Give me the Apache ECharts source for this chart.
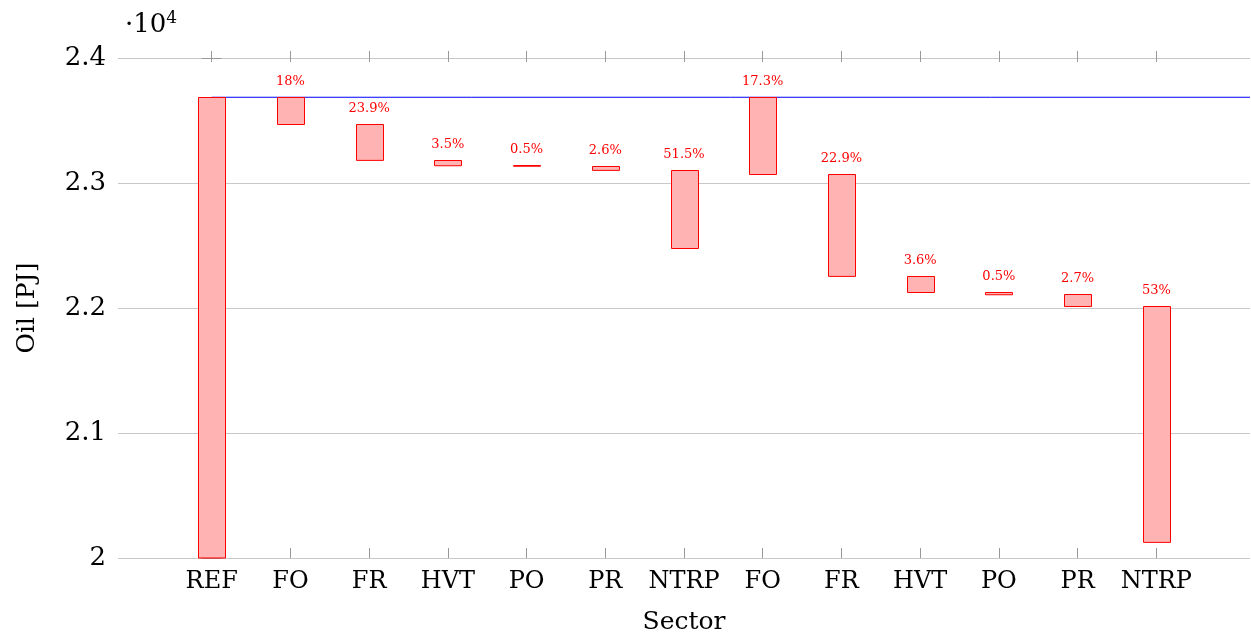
<!DOCTYPE html>
<html>
<head>
<meta charset="utf-8">
<script src="https://cdn.jsdelivr.net/npm/echarts@6/dist/echarts.min.js"></script>
<style>
  html, body { margin: 0; padding: 0; background: #fff; }
  #main { width: 1251px; height: 636px; }
</style>
</head>
<body>
<div id="main"></div>
<script>
// sectors, two runs of the same six after the reference
var categories = ['REF', 'FO', 'FR', 'HVT', 'PO', 'PR', 'NTRP', 'FO', 'FR', 'HVT', 'PO', 'PR', 'NTRP'];
// bar bottoms and tops, PJ
var lowValues = [0, 23470, 23183, 23141, 23135, 23104, 22480, 23070, 22255, 22127, 22109, 22013, 20126];
var highValues = [23686, 23686, 23470, 23183, 23141, 23135, 23104, 23686, 23070, 22255, 22127, 22109, 22013];
// share of each step in its run
var shares = ['', '18%', '23.9%', '3.5%', '0.5%', '2.6%', '51.5%', '17.3%', '22.9%', '3.6%', '0.5%', '2.7%', '53%'];
var refValue = highValues[0];

var font = 'DejaVu Serif';
var xMin = -1.19, xMax = 13.19;
var barW = 27;
var tickIdx = categories.map(function (c, i) { return i; });

var barData = categories.map(function (c, i) {
    return [i, lowValues[i], highValues[i]];
});

//每个柱子从 low 画到 high
function renderStep(params, api) {
    var x = api.value(0);
    var top = api.coord([x, api.value(2)]);
    var bottom = api.coord([x, api.value(1)]);
    var cs = params.coordSys;
    var left = Math.round(top[0] - barW / 2) + 0.5;
    var rect = echarts.graphic.clipRectByRect(
        { x: left, y: Math.round(top[1]) + 0.5, width: barW, height: bottom[1] - top[1] },
        { x: cs.x, y: cs.y, width: cs.width, height: cs.height }
    );
    var children = [];
    if (rect) {
        children.push({
            type: 'rect', shape: rect,
            style: { fill: '#ffb3b3', stroke: '#ff0000', lineWidth: 1 }
        });
    }
    var txt = shares[params.dataIndex];
    if (txt) {
        children.push({
            type: 'text', x: top[0], y: top[1] - 9,
            style: {
                text: txt, align: 'center', verticalAlign: 'bottom',
                fontFamily: font, fontSize: 13, fill: '#ff0000'
            }
        });
    }
    return { type: 'group', children: children };
}

var chart = echarts.init(document.getElementById('main'));
var option = {
    animation: false,
    textStyle: { fontFamily: font },
    grid: { left: 118, right: 1, top: 58, height: 500, outerBoundsMode: 'none', containLabel: false },
    graphic: [{
        type: 'text', left: 125, top: 10,
        style: {
            text: '{a|·10}{b|4}',
            rich: {
                a: { fontFamily: font, fontSize: 26, fill: '#000' },
                b: { fontFamily: font, fontSize: 17, fill: '#000', verticalAlign: 'top', padding: [0, 0, 14, 0] }
            }
        }
    }],
    xAxis: [{
        type: 'value', min: xMin, max: xMax, position: 'bottom',
        name: 'Sector', nameLocation: 'middle', nameGap: 52,
        nameTextStyle: { fontFamily: font, fontSize: 25, color: '#000' },
        axisLine: { show: false },
        splitLine: { show: false },
        axisTick: { show: true, inside: true, length: 10, customValues: tickIdx, lineStyle: { color: '#999' } },
        axisLabel: {
            customValues: tickIdx, margin: 12,
            fontFamily: font, fontSize: 24, color: '#000',
            formatter: function (v) { return categories[Math.round(v)]; }
        }
    }, {
        type: 'value', min: xMin, max: xMax, position: 'top', offset: 7,
        axisLine: { show: false },
        splitLine: { show: false },
        axisTick: { show: true, inside: true, length: 11, customValues: tickIdx, lineStyle: { color: '#999' } },
        axisLabel: { show: false }
    }],
    yAxis: [{
        type: 'value', min: 20000, max: 24000, interval: 1000, position: 'left',
        name: 'Oil [PJ]', nameLocation: 'middle', nameGap: 78,
        nameTextStyle: { fontFamily: font, fontSize: 25, color: '#000' },
        axisLine: { show: false },
        axisTick: { show: true, inside: true, length: 10, lineStyle: { color: '#999' } },
        splitLine: { show: true, lineStyle: { color: '#c8c8c8', width: 1 } },
        axisLabel: {
            margin: 12, fontFamily: font, fontSize: 26, color: '#000',
            formatter: function (v) { return String(v / 10000); }
        }
    }, {
        type: 'value', min: 20000, max: 24000, interval: 1000, position: 'right',
        axisLine: { show: false },
        axisTick: { show: true, inside: true, length: 10, lineStyle: { color: '#999' } },
        splitLine: { show: false },
        axisLabel: { show: false }
    }],
    series: [{
        type: 'line', z: 1, silent: true, symbol: 'none',
        data: [[0, refValue], [xMax, refValue]],
        lineStyle: { color: '#0000ff', width: 1 }
    }, {
        type: 'custom', z: 3, silent: true,
        renderItem: renderStep,
        encode: { x: 0, y: [1, 2] },
        data: barData
    }]
};
chart.setOption(option);
</script>
</body>
</html>
